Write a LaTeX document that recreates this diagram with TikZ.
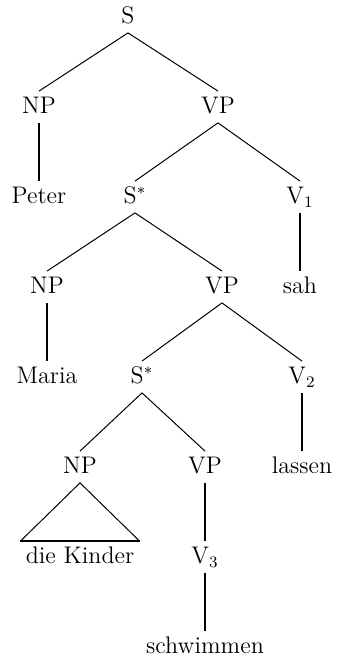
\documentclass[tikz,border=0pt]{standalone}
\usepackage{amsmath}
\usepackage{tikz}
\tikzset{%
      base/.style = {rectangle, draw=none, inner sep=2.5pt,
                     text height=8.5pt, text depth=2pt,
                     font=\fontsize{12}{14}\selectfont},
      cat/.style  = {base, align=center},
      word/.style = {base, align=center},
    branch/.style = {line width=0.5pt},
      stem/.style = {line width=0.9pt},
}
\begin{document}
\begin{tikzpicture}[node distance=45pt]
  \useasboundingbox (-64pt,8.5pt) rectangle (104.5pt,-322.5pt);

  \node (s)      [cat]                                     {S};
  \node (np1)    [cat,  below of=s,    xshift=-44.5pt]     {NP};
  \node (vp1)    [cat,  below of=s,    xshift= 45.0pt]     {VP};
  \node (peter)  [word, below of=np1                 ]     {Peter};
  \node (sst1)   [cat,  below of=vp1,  xshift=-41.5pt]     {S$^*$};
  \node (v1)     [cat,  below of=vp1,  xshift= 41.0pt]     {V$_1$};
  \node (np2)    [cat,  below of=sst1, xshift=-44.0pt]     {NP};
  \node (vp2)    [cat,  below of=sst1, xshift= 43.5pt]     {VP};
  \node (sah)    [word, below of=v1                  ]     {sah};
  \node (maria)  [word, below of=np2                 ]     {Maria};
  \node (sst2)   [cat,  below of=vp2,  xshift=-40.0pt]     {S$^*$};
  \node (v2)     [cat,  below of=vp2,  xshift= 40.0pt]     {V$_2$};
  \node (np3)    [cat,  below of=sst2, xshift=-31.0pt]     {NP};
  \node (vp3)    [cat,  below of=sst2, xshift= 31.5pt]     {VP};
  \node (lassen) [word, below of=v2                  ]     {lassen};
  \node (kinder) [word, below of=np3                 ]     {die Kinder};
  \node (v3)     [cat,  below of=vp3                 ]     {V$_3$};
  \node (schw)   [word, below of=v3                  ]     {schwimmen};

  \draw[branch] (s.south)    -- (np1.north);
  \draw[branch] (s.south)    -- (vp1.north);
  \draw[stem]   (np1.south)  -- (peter.north);
  \draw[branch] (vp1.south)  -- (sst1.north);
  \draw[branch] (vp1.south)  -- (v1.north);
  \draw[stem]   (v1.south)   -- (sah.north);
  \draw[branch] (sst1.south) -- (np2.north);
  \draw[branch] (sst1.south) -- (vp2.north);
  \draw[stem]   (np2.south)  -- (maria.north);
  \draw[branch] (vp2.south)  -- (sst2.north);
  \draw[branch] (vp2.south)  -- (v2.north);
  \draw[stem]   (v2.south)   -- (lassen.north);
  \draw[branch] (sst2.south) -- (np3.north);
  \draw[branch] (sst2.south) -- (vp3.north);
  % triangle over the unanalysed NP
  \draw[branch] (kinder.north west) -- (np3.south) -- (kinder.north east);
  \draw[stem]   (kinder.north west) -- (kinder.north east);
  \draw[stem]   (vp3.south)  -- (v3.north);
  \draw[stem]   (v3.south)   -- (schw.north);
\end{tikzpicture}
\end{document}
